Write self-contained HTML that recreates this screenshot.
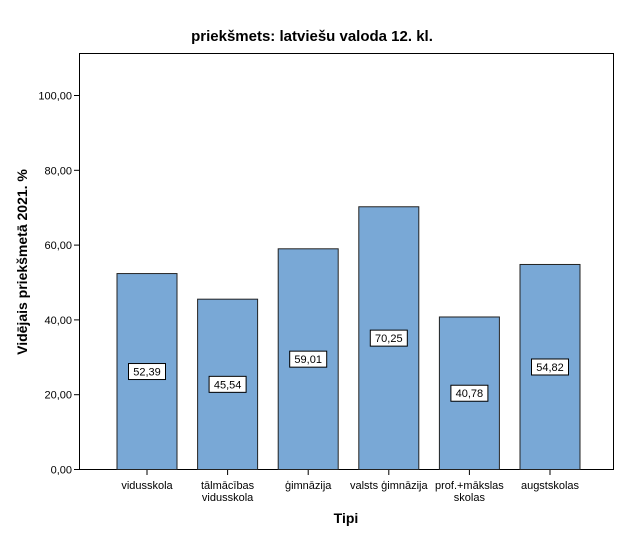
<!DOCTYPE html>
<html><head><meta charset="utf-8"><style>
body{margin:0;background:#fff;font-family:"Liberation Sans",Arial,sans-serif}
</style></head><body>
<svg id="c" width="625" height="540" xmlns="http://www.w3.org/2000/svg">
<text x="312" y="41" text-anchor="middle" font-size="15" font-weight="bold">priekšmets: latviešu valoda 12. kl.</text>
<rect x="79.5" y="53.5" width="534" height="416" fill="#fff" stroke="#000"/>
<g id="yax"></g><g id="bars"></g><g id="xax"></g>
<text x="346" y="523" text-anchor="middle" font-size="14" font-weight="bold">Tipi</text>
<text transform="translate(27,262) rotate(-90)" text-anchor="middle" font-size="14" font-weight="bold">Vidējais priekšmetā 2021. %</text>
</svg>
<script>
const categories=[["vidusskola"],["tālmācības","vidusskola"],["ģimnāzija"],["valsts ģimnāzija"],["prof.+mākslas","skolas"],["augstskolas"]];
const values=[52.39,45.54,59.01,70.25,40.78,54.82];
const labels=["52,39","45,54","59,01","70,25","40,78","54,82"];
const yTicks=[0,20,40,60,80,100];
const yTickLabels=["0,00","20,00","40,00","60,00","80,00","100,00"];
const NS="http://www.w3.org/2000/svg";
const y=v=>469.5-v*3.74;
const x=i=>147+i*80.6;
function mk(t,a,p){const e=document.createElementNS(NS,t);for(const k in a)e.setAttribute(k,a[k]);document.getElementById(p).appendChild(e);return e;}
yTicks.forEach((t,i)=>{
 const l=mk('line',{x1:74,x2:79.5,y1:y(t),y2:y(t),stroke:'#000'},'yax');
 
 
 const tx=mk('text',{x:72,y:y(t)+4,'text-anchor':'end','font-size':11},'yax');tx.textContent=yTickLabels[i];
 
 
});
values.forEach((v,i)=>{
 const r=mk('rect',{x:x(i)-30,y:y(v),width:60,height:469.5-y(v),fill:'#79a8d6',stroke:'#222','stroke-width':1},'bars');
 
 
 const my=(y(v)+469.5)/2;
 const b=mk('rect',{x:x(i)-18.5,y:my-8,width:37,height:16,fill:'#fff',stroke:'#000'},'bars');
 
 
 const t=mk('text',{x:x(i),y:my+4,'text-anchor':'middle','font-size':11},'bars');t.textContent=labels[i];
 
 
 const tk=mk('line',{x1:x(i),x2:x(i),y1:470,y2:475,stroke:'#000'},'xax');
 
 
 categories[i].forEach((s,j)=>{
  const c=mk('text',{x:x(i),y:489+j*12,'text-anchor':'middle','font-size':11},'xax');c.textContent=s;
  
  
 });
});
</script>
</body></html>
